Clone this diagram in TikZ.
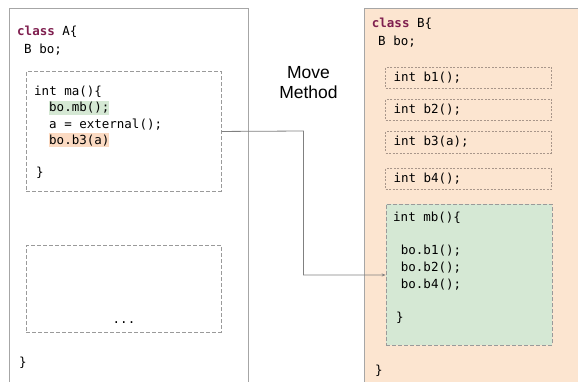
\documentclass[tikz,border=0pt]{standalone}
\usepackage{fontspec}
\setmainfont{Liberation Sans}
\setmonofont{DejaVu Sans Mono}
\usetikzlibrary{arrows.meta}
\definecolor{peach}{HTML}{FCE5D0}
\definecolor{hlorange}{HTML}{FBDAC2}
\definecolor{hlgreen}{HTML}{D5E8D4}
\definecolor{kw}{HTML}{7F1F4F}
\definecolor{boxgray}{HTML}{A6A6A6}
\definecolor{dashgray}{HTML}{9A9A9A}
\definecolor{siggray}{HTML}{A8968A}
\definecolor{linegray}{HTML}{808080}
\begin{document}
\begin{tikzpicture}[x=1pt,y=-1pt,
  code/.style={font=\fontsize{12.5}{16.5}\selectfont\ttfamily, inner sep=0pt, anchor=base west},
  label/.style={font=\fontsize{17.5}{20}\selectfont, inner sep=0pt, anchor=base},
  classbox/.style={draw=boxgray, line width=0.9pt, anchor=north west, inner sep=0pt},
  methodbox/.style={draw=dashgray, line width=0.9pt, dash pattern=on 4pt off 2pt, anchor=north west, inner sep=0pt},
  sigbox/.style={draw=siggray, line width=0.7pt, dash pattern=on 2pt off 1.5pt, anchor=north west, inner sep=0pt,
    minimum width=165.7pt, minimum height=21.5pt},
  hl/.style={code, inner xsep=0pt, inner ysep=1.6pt},
  conn/.style={draw=linegray, line width=0.8pt, -{Stealth[length=4pt,width=3pt]}}
]
\useasboundingbox (0,0) rectangle (578,381);
\clip (0,0) rectangle (578,381);
% class A
\node[classbox, minimum width=239pt, minimum height=390pt] (classA) at (9,8.3) {};
\node[code] (aHead) at (17,35.5) {\textcolor{kw}{\textbf{class}} A\{};
\node[code] (aField) at (24,53.3) {B bo;};
\node[methodbox, minimum width=194.7pt, minimum height=120pt] (ma) at (26,71) {};
\node[code] (maHead) at (34,95) {int ma()\{};
\node[hl, fill=hlgreen] (callMb) at (49,111.7) {bo.mb();};
\node[code] (ext) at (49,128.3) {a = external();};
\node[hl, fill=hlorange] (callB3) at (49,144) {bo.b3(a)};
\node[code] (maEnd) at (36,176.7) {\}};
\node[methodbox, minimum width=194.7pt, minimum height=86.7pt] (other) at (26,245) {};
\node[code, anchor=base] (dots) at (124,323) {...};
\node[code] (aEnd) at (19,366.7) {\}};
% label
\node[label] (lblMove) at (308.5,78) {Move};
\node[label] (lblMethod) at (308.5,98) {Method};
% class B
\node[classbox, fill=peach, minimum width=240pt, minimum height=390pt] (classB) at (364,8.3) {};
\node[code] (bHead) at (371.7,27.3) {\textcolor{kw}{\textbf{class}} B\{};
\node[code] (bField) at (378,45) {B bo;};
\node[sigbox] (b1) at (385.3,66.7) {};
\node[sigbox] (b2) at (385.3,98.7) {};
\node[sigbox] (b3) at (385.3,131) {};
\node[sigbox] (b4) at (385.3,167.7) {};
\node[code, anchor=west] at ([xshift=8pt]b1.west) {int b1();};
\node[code, anchor=west] at ([xshift=8pt]b2.west) {int b2();};
\node[code, anchor=west] at ([xshift=8pt]b3.west) {int b3(a);};
\node[code, anchor=west] at ([xshift=8pt]b4.west) {int b4();};
\node[methodbox, fill=hlgreen, minimum width=166pt, minimum height=141pt] (mb) at (385.7,204) {};
\node[code] (mbHead) at (393,221.7) {int mb()\{};
\node[code] (mbL1) at (400.7,254.3) {bo.b1();};
\node[code] (mbL2) at (400.7,271) {bo.b2();};
\node[code] (mbL3) at (400.7,288) {bo.b4();};
\node[code] (mbEnd) at (396,321.7) {\}};
\node[code] (bEnd) at (375,374) {\}};
% connector
\coordinate (bend) at (303.5,131);
\draw[conn] (ma.east) -- (bend) |- (mb.west);
\end{tikzpicture}
\end{document}
